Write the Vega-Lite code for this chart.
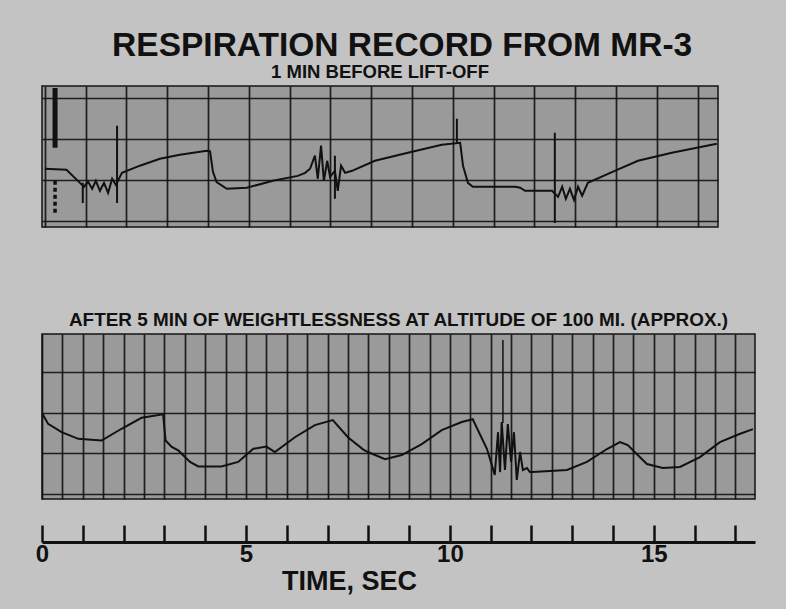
{
  "$schema": "https://vega.github.io/schema/vega-lite/v6.json",
  "background": "#c3c3c3",
  "padding": {"left": 34, "top": 28, "right": 40, "bottom": 20},
  "title": {"text": "RESPIRATION RECORD FROM MR-3", "font": "Liberation Sans", "fontSize": 33.5, "fontWeight": "bold", "color": "#111111", "anchor": "middle", "offset": -1, "dx": 6},
  "config": {
    "view": {"fill": "#9a9a9a", "stroke": "#151515", "strokeWidth": 1.5},
    "axis": {"gridColor": "#111111", "gridWidth": 1.7, "gridOpacity": 0.9},
    "axisY": {"minExtent": 0, "maxExtent": 0}
  },
  "spacing": 82,
  "datasets": {
    "top": [
      {"t": 0.07, "v": 2.55}, {"t": 0.6, "v": 2.5}, {"t": 0.93, "v": 1.86},
      {"t": 1.03, "v": 1.67}, {"t": 1.13, "v": 1.91}, {"t": 1.23, "v": 1.57}, {"t": 1.32, "v": 1.96},
      {"t": 1.42, "v": 1.47}, {"t": 1.52, "v": 1.86}, {"t": 1.62, "v": 1.37}, {"t": 1.72, "v": 2.06},
      {"t": 1.81, "v": 1.76}, {"t": 1.96, "v": 2.35}, {"t": 2.4, "v": 2.7}, {"t": 2.89, "v": 3.04},
      {"t": 3.38, "v": 3.24}, {"t": 4.04, "v": 3.43}, {"t": 4.12, "v": 3.4}, {"t": 4.19, "v": 2.4},
      {"t": 4.28, "v": 1.9}, {"t": 4.53, "v": 1.57}, {"t": 5.02, "v": 1.62}, {"t": 5.66, "v": 1.96},
      {"t": 6.27, "v": 2.2}, {"t": 6.45, "v": 2.35}, {"t": 6.57, "v": 2.55}, {"t": 6.69, "v": 3.19},
      {"t": 6.76, "v": 2.06}, {"t": 6.84, "v": 3.68}, {"t": 6.91, "v": 1.96}, {"t": 6.99, "v": 2.94},
      {"t": 7.06, "v": 2.16}, {"t": 7.18, "v": 2.45}, {"t": 7.25, "v": 1.47}, {"t": 7.33, "v": 2.7},
      {"t": 7.43, "v": 2.35}, {"t": 7.6, "v": 2.45}, {"t": 8.16, "v": 2.94}, {"t": 8.97, "v": 3.33},
      {"t": 9.8, "v": 3.72}, {"t": 10.25, "v": 3.82}, {"t": 10.32, "v": 2.7}, {"t": 10.44, "v": 1.86},
      {"t": 10.56, "v": 1.67}, {"t": 11.6, "v": 1.67}, {"t": 11.72, "v": 1.62}, {"t": 11.84, "v": 1.47},
      {"t": 12.5, "v": 1.47}, {"t": 12.65, "v": 1.18}, {"t": 12.75, "v": 1.67}, {"t": 12.84, "v": 1.08},
      {"t": 12.94, "v": 1.57}, {"t": 13.04, "v": 1.03}, {"t": 13.14, "v": 1.67}, {"t": 13.24, "v": 1.23},
      {"t": 13.38, "v": 1.86}, {"t": 14.04, "v": 2.45}, {"t": 14.61, "v": 2.94}, {"t": 15.44, "v": 3.33},
      {"t": 16.54, "v": 3.77}
    ],
    "topMarks": [
      {"t": 0.32, "v": 6.5, "v2": 3.58, "kind": "blob"},
      {"t": 0.32, "v": 1.96, "v2": 0.34, "kind": "dash"},
      {"t": 1.0, "v": 1.86, "v2": 0.88, "kind": "spike"},
      {"t": 1.84, "v": 4.66, "v2": 0.88, "kind": "spike"},
      {"t": 7.18, "v": 3.19, "v2": 1.08, "kind": "spike"},
      {"t": 10.17, "v": 5.0, "v2": 3.82, "kind": "spike"},
      {"t": 12.57, "v": 4.31, "v2": -0.1, "kind": "spike"}
    ],
    "bottom": [
      {"t": 0.01, "v": 3.96}, {"t": 0.15, "v": 3.46}, {"t": 0.48, "v": 3.05}, {"t": 0.89, "v": 2.72},
      {"t": 1.46, "v": 2.64}, {"t": 1.95, "v": 3.22}, {"t": 2.44, "v": 3.76}, {"t": 2.97, "v": 3.93},
      {"t": 3.03, "v": 2.64}, {"t": 3.18, "v": 2.32}, {"t": 3.34, "v": 2.15}, {"t": 3.63, "v": 1.58},
      {"t": 3.83, "v": 1.36}, {"t": 4.4, "v": 1.36}, {"t": 4.81, "v": 1.58}, {"t": 5.18, "v": 2.23},
      {"t": 5.5, "v": 2.34}, {"t": 5.71, "v": 2.07}, {"t": 6.2, "v": 2.8}, {"t": 6.69, "v": 3.4},
      {"t": 7.13, "v": 3.65}, {"t": 7.5, "v": 2.8}, {"t": 7.87, "v": 2.2}, {"t": 7.99, "v": 2.07},
      {"t": 8.41, "v": 1.72}, {"t": 8.82, "v": 1.92}, {"t": 9.31, "v": 2.46}, {"t": 9.8, "v": 3.15},
      {"t": 10.29, "v": 3.55}, {"t": 10.56, "v": 3.69}, {"t": 10.91, "v": 2.22}, {"t": 11.1, "v": 0.94},
      {"t": 11.18, "v": 3.05}, {"t": 11.23, "v": 1.08}, {"t": 11.27, "v": 3.55}, {"t": 11.35, "v": 1.18},
      {"t": 11.42, "v": 3.45}, {"t": 11.5, "v": 1.58}, {"t": 11.57, "v": 3.05}, {"t": 11.64, "v": 0.69},
      {"t": 11.72, "v": 2.07}, {"t": 11.79, "v": 1.18}, {"t": 11.89, "v": 1.28}, {"t": 11.96, "v": 1.08},
      {"t": 12.03, "v": 1.08}, {"t": 12.87, "v": 1.18}, {"t": 13.36, "v": 1.58}, {"t": 13.85, "v": 2.22},
      {"t": 14.17, "v": 2.56}, {"t": 14.36, "v": 2.41}, {"t": 14.58, "v": 1.97}, {"t": 14.83, "v": 1.48},
      {"t": 15.22, "v": 1.28}, {"t": 15.64, "v": 1.33}, {"t": 16.13, "v": 1.82}, {"t": 16.62, "v": 2.56},
      {"t": 17.1, "v": 2.96}, {"t": 17.43, "v": 3.2}
    ],
    "bottomMarks": [
      {"t": 11.3, "v": 7.6, "v2": 3.5}
    ]
  },
  "vconcat": [
    {
      "width": 676,
      "height": 141,
      "title": {"text": "1 MIN BEFORE LIFT-OFF", "font": "Liberation Sans", "fontSize": 18.5, "fontWeight": "bold", "color": "#111111", "anchor": "middle", "offset": 4},
      "layer": [
        {
          "data": {"name": "top"},
          "mark": {"type": "line", "color": "#111111", "strokeWidth": 2},
          "encoding": {
            "x": {"field": "t", "type": "quantitative", "scale": {"domain": [0, 16.57], "nice": false, "zero": false},
              "axis": {"values": [0.07,0.57,1.07,1.57,2.07,2.57,3.07,3.57,4.07,4.57,5.07,5.57,6.07,6.57,7.07,7.57,8.07,8.57,9.07,9.57,10.07,10.57,11.07,11.57,12.07,12.57,13.07,13.57,14.07,14.57,15.07,15.57,16.07],
                "grid": true, "labels": false, "ticks": false, "domain": false, "title": null}},
            "y": {"field": "v", "type": "quantitative", "scale": {"domain": [-0.3, 6.6], "nice": false, "zero": false},
              "axis": {"values": [0,1,2,3,4,5,6], "grid": true, "labels": false, "ticks": false, "domain": false, "title": null}}
          }
        },
        {
          "data": {"name": "topMarks"},
          "mark": {"type": "rule", "color": "#111111"},
          "encoding": {
            "x": {"field": "t", "type": "quantitative"},
            "y": {"field": "v", "type": "quantitative"},
            "y2": {"field": "v2"},
            "strokeWidth": {"field": "kind", "type": "nominal", "scale": {"domain": ["blob", "dash", "spike"], "range": [5, 2, 2]}, "legend": null},
            "strokeDash": {"field": "kind", "type": "nominal", "scale": {"domain": ["blob", "dash", "spike"], "range": [[1,0],[4,3],[1,0]]}, "legend": null}
          }
        }
      ]
    },
    {
      "width": 713,
      "height": 165,
      "title": {"text": "AFTER 5 MIN  OF WEIGHTLESSNESS AT ALTITUDE OF 100 MI.  (APPROX.)", "font": "Liberation Sans", "fontSize": 18.9, "fontWeight": "bold", "color": "#111111", "anchor": "middle", "offset": 4},
      "layer": [
        {
          "data": {"name": "bottom"},
          "mark": {"type": "line", "color": "#111111", "strokeWidth": 2},
          "encoding": {
            "x": {"field": "t", "type": "quantitative", "scale": {"domain": [0, 17.48], "nice": false, "zero": false},
              "axis": {"orient": "top", "values": [0,0.5,1,1.5,2,2.5,3,3.5,4,4.5,5,5.5,6,6.5,7,7.5,8,8.5,9,9.5,10,10.5,11,11.5,12,12.5,13,13.5,14,14.5,15,15.5,16,16.5,17],
                "grid": true, "labels": false, "ticks": false, "domain": false, "title": null}},
            "y": {"field": "v", "type": "quantitative", "scale": {"domain": [-0.25, 7.9], "nice": false, "zero": false},
              "axis": {"values": [0,1,2,3,4,5,6,7], "grid": true, "labels": false, "ticks": false, "domain": false, "title": null}}
          }
        },
        {
          "data": {"name": "bottomMarks"},
          "mark": {"type": "rule", "color": "#111111", "strokeWidth": 1.5},
          "encoding": {
            "x": {"field": "t", "type": "quantitative", "scale": {"domain": [0, 17.48], "nice": false, "zero": false},
              "axis": {"orient": "bottom", "values": [0,1,2,3,4,5,6,7,8,9,10,11,12,13,14,15,16,17], "grid": false,
                "offset": 43, "domainColor": "#111111", "domainWidth": 3, "tickColor": "#111111", "tickWidth": 2.5, "tickSize": -17,
                "labelExpr": "datum.value % 5 == 0 ? datum.label : ''", "labelFont": "Liberation Sans", "labelFontSize": 24, "labelFontWeight": "bold",
                "labelColor": "#111111", "labelPadding": 17, "labelFlush": false, "labelOverlap": false, "labelBound": false,
                "title": "TIME, SEC", "titleFont": "Liberation Sans", "titleFontSize": 27, "titleFontWeight": "bold", "titleColor": "#111111",
                "titleX": 307, "titlePadding": 2}},
            "y": {"field": "v", "type": "quantitative"},
            "y2": {"field": "v2"}
          }
        }
      ],
      "resolve": {"axis": {"x": "independent"}}
    }
  ]
}
